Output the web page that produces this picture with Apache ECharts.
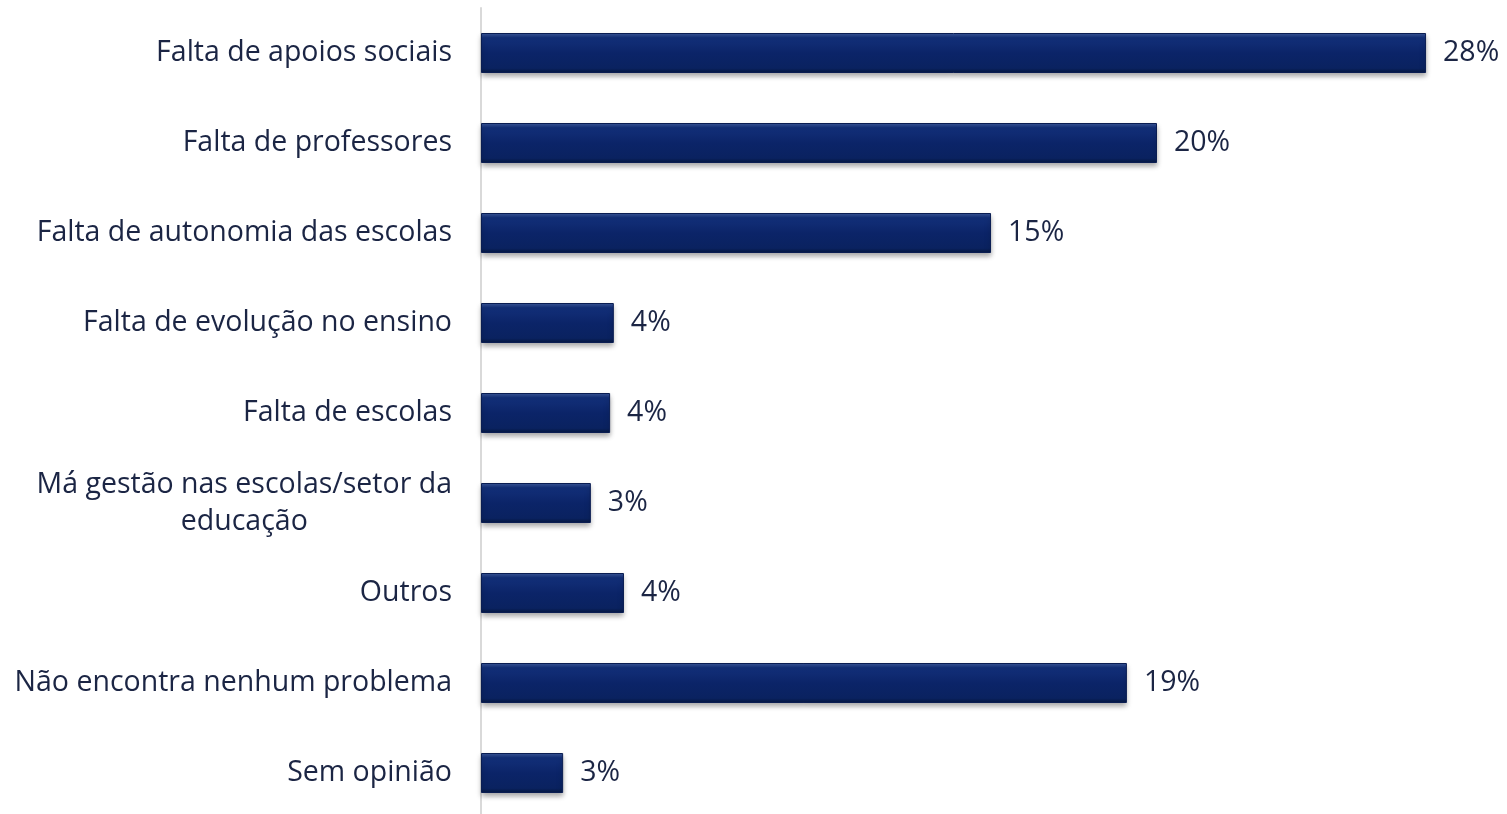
<!DOCTYPE html>
<html>
<head>
<meta charset="utf-8">
<script src="https://cdn.jsdelivr.net/npm/echarts@6/dist/echarts.min.js"></script>
<style>html,body{margin:0;padding:0;background:#fff;overflow:hidden;}#c{width:1507px;height:820px;}</style>
</head>
<body>
<div id="c"></div>
<script>
const categories = [
  "Falta de apoios sociais",
  "Falta de professores",
  "Falta de autonomia das escolas",
  "Falta de evolução no ensino",
  "Falta de escolas",
  "Má gestão nas escolas/setor da\neducação",
  "Outros",
  "Não encontra nenhum problema",
  "Sem opinião"
];
const values = [27.96, 20.0, 15.09, 3.93, 3.82, 3.25, 4.23, 19.11, 2.43];
const valueLabels = ["28%", "20%", "15%", "4%", "4%", "3%", "4%", "19%", "3%"];

const chart = echarts.init(document.getElementById('c'));
const font = "'Open Sans', 'Noto Sans', sans-serif";
chart.setOption({
  backgroundColor: '#ffffff',
  animation: false,
  grid: { left: 481, top: 8, width: 1014, height: 810, containLabel: false },
  xAxis: {
    type: 'value', min: 0, max: 30, show: false
  },
  yAxis: {
    type: 'category', inverse: true, data: categories,
    axisLine: { show: true, lineStyle: { color: '#d9d9d9', width: 2 } },
    axisTick: { show: false },
    axisLabel: {
      margin: 29, color: '#1b2544', fontFamily: font, fontSize: 28.5,
      formatter: function (v) {
        return v.split('\n').map(s => '{a|' + s + '}').join('\n');
      },
      rich: { a: { align: 'center', color: '#1b2544', fontFamily: font, fontSize: 28.5, lineHeight: 37 } }
    }
  },
  series: [{
    type: 'bar',
    data: values,
    barWidth: 40,
    itemStyle: {
      color: new echarts.graphic.LinearGradient(0, 0, 0, 1, [
        { offset: 0, color: '#3d5a9c' },
        { offset: 0.12, color: '#13307a' },
        { offset: 0.5, color: '#0b2468' },
        { offset: 0.88, color: '#0a2260' },
        { offset: 1, color: '#061840' }
      ]),
      borderColor: '#0a1d52',
      borderWidth: 1,
      shadowColor: 'rgba(0,0,0,0.35)',
      shadowBlur: 5,
      shadowOffsetY: 3
    },
    label: {
      show: true, position: 'right', distance: 17,
      color: '#1b2544', fontFamily: font, fontSize: 28.5,
      formatter: function (p) { return valueLabels[p.dataIndex]; }
    }
  }]
});
</script>
</body>
</html>
